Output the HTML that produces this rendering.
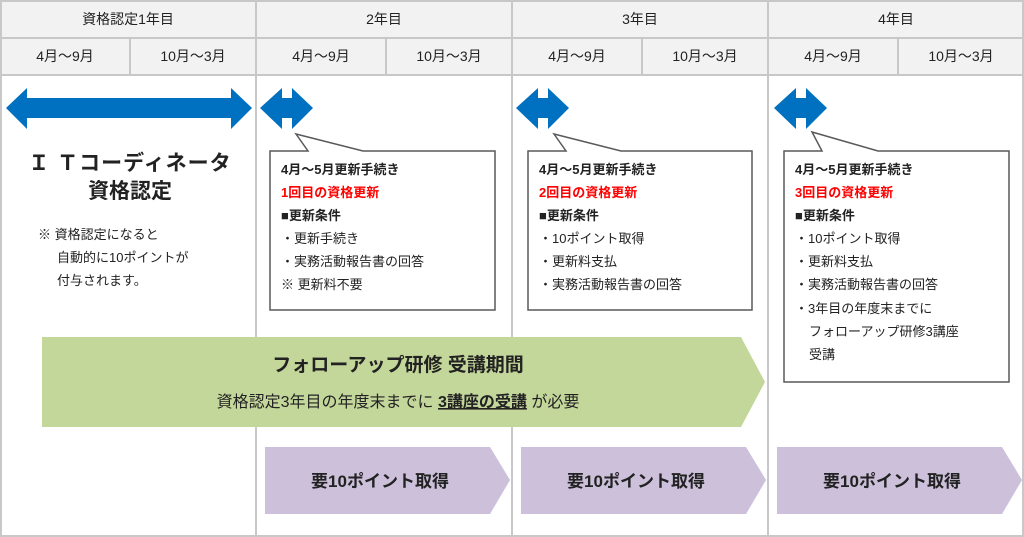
<!DOCTYPE html>
<html><head><meta charset="utf-8"><style>
body{margin:0;background:#fff}
svg{display:block}
text{font-family:"Liberation Sans","Noto Sans CJK JP",sans-serif;fill:#222}
</style></head><body>
<svg width="1024" height="537" viewBox="0 0 1024 537">
<rect x="0" y="0" width="1024" height="75" fill="#f2f2f2"/>
<g stroke="#c8c8c8" stroke-width="2" fill="none">
<rect x="1" y="1" width="1022" height="535"/>
<line x1="0" y1="38" x2="1024" y2="38"/>
<line x1="0" y1="75" x2="1024" y2="75"/>
<line x1="256" y1="0" x2="256" y2="537"/>
<line x1="512" y1="0" x2="512" y2="537"/>
<line x1="768" y1="0" x2="768" y2="537"/>
<line x1="130" y1="38" x2="130" y2="75"/>
<line x1="386" y1="38" x2="386" y2="75"/>
<line x1="642" y1="38" x2="642" y2="75"/>
<line x1="898" y1="38" x2="898" y2="75"/>
</g>
<g font-size="14" text-anchor="middle">
<text x="128" y="24">資格認定1年目</text><text x="384" y="24">2年目</text><text x="640" y="24">3年目</text><text x="896" y="24">4年目</text>
<text x="65" y="61">4月～9月</text><text x="193" y="61">10月～3月</text>
<text x="321" y="61">4月～9月</text><text x="449" y="61">10月～3月</text>
<text x="577" y="61">4月～9月</text><text x="705" y="61">10月～3月</text>
<text x="833" y="61">4月～9月</text><text x="961" y="61">10月～3月</text>
</g>
<g fill="#0070c0">
<polygon points="6,108 27,88 27,98 231,98 231,88 252,108 231,129 231,118 27,118 27,129"/>
<polygon points="260,108 282,88 282,98 292,98 292,88 313,108 292,129 292,118 282,118 282,129"/>
<polygon points="516,108 538,88 538,98 548,98 548,88 569,108 548,129 548,118 538,118 538,129"/>
<polygon points="774,108 796,88 796,98 806,98 806,88 827,108 806,129 806,118 796,118 796,129"/>
</g>
<text x="130" y="170" font-size="21" font-weight="bold" text-anchor="middle" letter-spacing="1">Ｉ Ｔコーディネータ</text>
<text x="130" y="198" font-size="21" font-weight="bold" text-anchor="middle">資格認定</text>
<g font-size="13"><text x="38" y="239">※ 資格認定になると</text><text x="57" y="262">自動的に10ポイントが</text><text x="57" y="285">付与されます。</text></g>
<g fill="#fff" stroke="#595959" stroke-width="1.5">
<polygon points="270,151 308,151 296,134 363,151 495,151 495,310 270,310"/>
<polygon points="528,151 566,151 554,134 621,151 752,151 752,310 528,310"/>
<polygon points="784,151 822,151 812,132 878,151 1009,151 1009,382 784,382"/>
</g>
<g font-size="13">
<text x="281" y="174" font-weight="bold">4月～5月更新手続き</text>
<text x="281" y="197" font-weight="bold" style="fill:#f00">1回目の資格更新</text>
<text x="281" y="220" font-weight="bold">■更新条件</text>
<text x="281" y="243">・更新手続き</text><text x="281" y="266">・実務活動報告書の回答</text><text x="281" y="289">※ 更新料不要</text>
<text x="539" y="174" font-weight="bold">4月～5月更新手続き</text>
<text x="539" y="197" font-weight="bold" style="fill:#f00">2回目の資格更新</text>
<text x="539" y="220" font-weight="bold">■更新条件</text>
<text x="539" y="243">・10ポイント取得</text><text x="539" y="266">・更新料支払</text><text x="539" y="289">・実務活動報告書の回答</text>
<text x="795" y="174" font-weight="bold">4月～5月更新手続き</text>
<text x="795" y="197" font-weight="bold" style="fill:#f00">3回目の資格更新</text>
<text x="795" y="220" font-weight="bold">■更新条件</text>
<text x="795" y="243">・10ポイント取得</text><text x="795" y="266">・更新料支払</text><text x="795" y="289">・実務活動報告書の回答</text>
<text x="795" y="313">・3年目の年度末までに</text><text x="809" y="336">フォローアップ研修3講座</text><text x="809" y="359">受講</text>
</g>
<polygon points="42,337 741,337 765,382 741,427 42,427" fill="#c4d79b"/>
<text x="398" y="371" font-size="19" font-weight="bold" text-anchor="middle">フォローアップ研修 受講期間</text>
<text x="398" y="407" font-size="16" text-anchor="middle">資格認定3年目の年度末までに <tspan font-weight="bold" text-decoration="underline">3講座の受講</tspan> が必要</text>
<g fill="#ccc0da">
<polygon points="265,447 490,447 510,480 490,514 265,514"/>
<polygon points="521,447 746,447 766,480 746,514 521,514"/>
<polygon points="777,447 1002,447 1022,480 1002,514 777,514"/>
</g>
<g font-size="17" font-weight="bold" text-anchor="middle">
<text x="380" y="487">要10ポイント取得</text><text x="636" y="487">要10ポイント取得</text><text x="892" y="487">要10ポイント取得</text>
</g>
</svg>
</body></html>
